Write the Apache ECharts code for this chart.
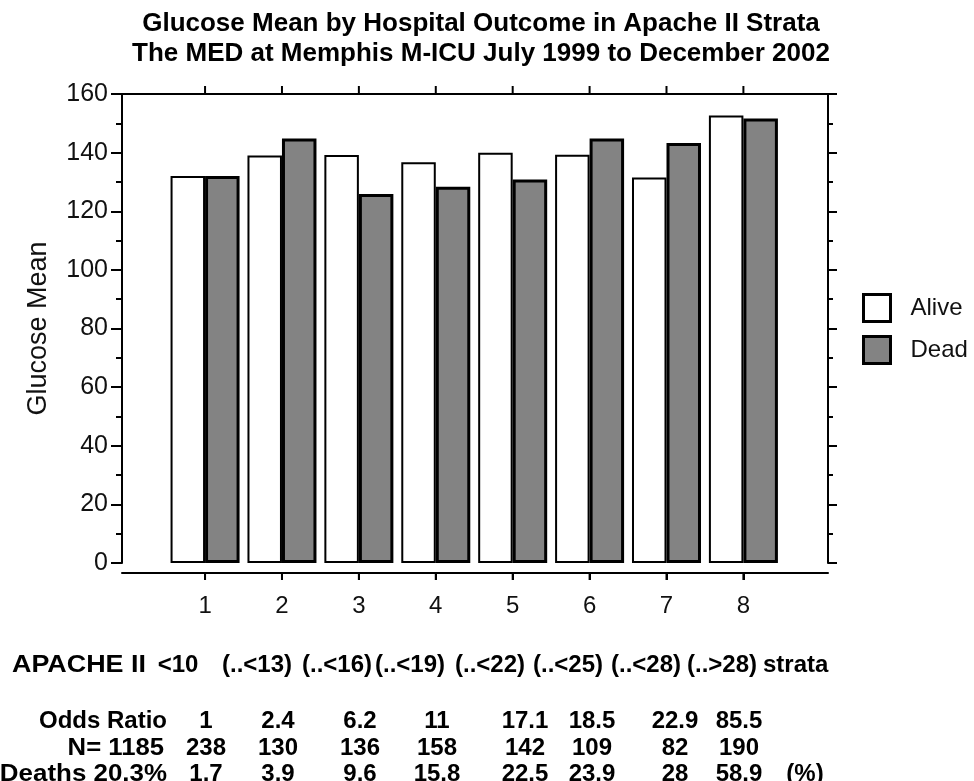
<!DOCTYPE html>
<html>
<head>
<meta charset="utf-8">
<script src="https://cdn.jsdelivr.net/npm/echarts@6/dist/echarts.min.js"></script>
<style>
html,body{margin:0;padding:0;background:#fff;}
#chart{width:974px;height:781px;}
</style>
</head>
<body>
<div id="chart"></div>
<script>
// ---- data ----
var categories = ['1', '2', '3', '4', '5', '6', '7', '8'];
var aliveMean = [132, 139, 139.2, 136.7, 140, 139.3, 131.5, 152.7];
var deadMean  = [132, 144.8, 125.9, 128.4, 130.8, 144.8, 143.3, 151.6];
var yTicks = [0, 20, 40, 60, 80, 100, 120, 140, 160];
var apacheStrata = ['<10', '(..<13)', '(..<16)', '(..<19)', '(..<22)', '(..<25)', '(..<28)', '(..>28)'];
var oddsRatio = ['1', '2.4', '6.2', '11', '17.1', '18.5', '22.9', '85.5'];
var nCounts = ['238', '130', '136', '158', '142', '109', '82', '190'];
var deathsPct = ['1.7', '3.9', '9.6', '15.8', '22.5', '23.9', '28', '58.9'];
var totalN = '1185';
var totalDeaths = '20.3%';
var titleLines = ['Glucose Mean by Hospital Outcome in Apache II Strata',
                  'The MED at Memphis M-ICU July 1999 to December 2002'];

// ---- layout (positions only) ----
var strataX = [178, 257, 337, 410, 490, 568, 646, 722];
var colX = [206, 278, 360, 437, 525, 592, 675, 739];
var rowY = {apache: 665, odds: 721, n: 748, deaths: 774};

var FONT = 'Liberation Sans, Arial, sans-serif';
var tableFont = 'bold 24px ' + 'Liberation Sans, Arial, sans-serif';

function txt(x, y, s, align, sx) {
  return {type: 'text', x: x, y: y, scaleX: sx || 1,
          style: {text: s, font: tableFont, fill: '#000', textAlign: align || 'center', textVerticalAlign: 'middle'}, silent: true};
}
var graphics = [];
graphics.push(txt(12, rowY.apache, 'APACHE II', 'left', 1.12));
apacheStrata.forEach(function (s, i) { graphics.push(txt(strataX[i], rowY.apache, s)); });
graphics.push(txt(763, rowY.apache, 'strata', 'left'));
graphics.push(txt(167, rowY.odds, 'Odds Ratio', 'right'));
graphics.push(txt(164, rowY.n, 'N= ' + totalN, 'right', 1.07));
graphics.push(txt(167, rowY.deaths, 'Deaths ' + totalDeaths, 'right', 1.08));
oddsRatio.forEach(function (s, i) { graphics.push(txt(colX[i], rowY.odds, s)); });
nCounts.forEach(function (s, i) { graphics.push(txt(colX[i], rowY.n, s)); });
deathsPct.forEach(function (s, i) { graphics.push(txt(colX[i], rowY.deaths, s)); });
graphics.push(txt(805, rowY.deaths, '(%)'));

function ls() { return {color: '#000', width: 2}; }
// frame grid and its x range (in category units); bar grid derived so category centres line up
var frame = {left: 122, top: 94, width: 706, height: 469};
var xMin = -0.08, xMax = 9.1;
var unit = frame.width / (xMax - xMin);
var barGrid = {left: frame.left + (0.5 - xMin) * unit, top: frame.top, width: 8 * unit, height: frame.height};

var option = {
  backgroundColor: '#fff',
  animation: false,
  title: {
    text: titleLines.join('\n'),
    left: 476, top: 4, textAlign: 'center',
    textStyle: {fontFamily: FONT, fontWeight: 'bold', fontSize: 26, lineHeight: 30, color: '#000'}
  },
  legend: {
    orient: 'vertical', left: 862, top: 293, padding: 0,
    itemWidth: 27, itemHeight: 27, itemGap: 12, icon: 'rect',
    textStyle: {fontFamily: FONT, fontSize: 24, lineHeight: 27, color: '#111', padding: [0, 0, 0, 15]},
    data: [
      {name: 'Alive', itemStyle: {color: '#fff', borderColor: '#000', borderWidth: 3}},
      {name: 'Dead', itemStyle: {color: '#838383', borderColor: '#000', borderWidth: 3}}
    ]
  },
  grid: [frame, barGrid],
  xAxis: [
    {gridIndex: 0, type: 'value', min: xMin, max: xMax, position: 'bottom', offset: 10,
     axisLine: {show: true, onZero: false, lineStyle: ls()},
     axisTick: {show: false}, axisLabel: {show: false}, splitLine: {show: false}},
    {gridIndex: 0, type: 'value', min: xMin, max: xMax, position: 'top',
     axisLine: {show: true, onZero: false, lineStyle: ls()},
     axisTick: {show: false}, axisLabel: {show: false}, splitLine: {show: false}},
    {gridIndex: 1, type: 'category', data: categories, show: false},
    {gridIndex: 1, type: 'category', data: categories, position: 'bottom', offset: 10,
     axisLine: {show: false}, axisTick: {show: true, alignWithLabel: true, length: 7, lineStyle: ls()},
     axisLabel: {show: true, interval: 0, fontFamily: FONT, fontSize: 24, color: '#111', margin: 21},
     splitLine: {show: false}}
  ],
  yAxis: [
    {gridIndex: 0, type: 'value', min: 0, max: 160, interval: 20, position: 'left',
     name: 'Glucose Mean', nameLocation: 'middle', nameGap: 70,
     nameTextStyle: {fontFamily: FONT, fontSize: 27, color: '#111'},
     axisLine: {show: true, onZero: false, lineStyle: ls()},
     axisTick: {show: true, length: 11, lineStyle: ls()},
     minorTick: {show: true, splitNumber: 2, length: 6, lineStyle: ls()},
     axisLabel: {fontFamily: FONT, fontSize: 25, color: '#111', margin: 14,
       formatter: function (v) { return yTicks.indexOf(v) >= 0 ? String(v) : ''; }},
     splitLine: {show: false}},
    {gridIndex: 0, type: 'value', min: 0, max: 160, interval: 20, position: 'right',
     axisLine: {show: true, onZero: false, lineStyle: ls()},
     axisTick: {show: true, length: 9, lineStyle: ls()},
     minorTick: {show: true, splitNumber: 2, length: 5, lineStyle: ls()},
     axisLabel: {show: false}, splitLine: {show: false}},
    {gridIndex: 1, type: 'value', min: 0, max: 160, show: false, splitLine: {show: false}}
  ],
  series: [
    {name: 'Alive', type: 'bar', xAxisIndex: 2, yAxisIndex: 2, data: aliveMean,
     barWidth: 34.5, barGap: '0%',
     itemStyle: {color: '#ffffff', borderColor: '#000', borderWidth: 2}},
    {name: 'Dead', type: 'bar', xAxisIndex: 2, yAxisIndex: 2, data: deadMean,
     barWidth: 34.5, barGap: '0%',
     itemStyle: {color: '#838383', borderColor: '#000', borderWidth: 3}}
  ],
  graphic: {elements: graphics}
};
var chart = echarts.init(document.getElementById('chart'), null, {renderer: 'canvas'});
chart.setOption(option);

// category tick marks (top border and detached baseline) placed through the bar axis scale
try {
  var tickEls = graphics.slice();
  var baseY = frame.top + frame.height + 10;
  categories.forEach(function (c) {
    var x = chart.convertToPixel({xAxisIndex: 2}, c);
    if (typeof x !== 'number' || isNaN(x)) return;
    tickEls.push({type: 'line', silent: true, shape: {x1: x, y1: baseY, x2: x, y2: baseY + 7},
                  style: {stroke: '#000', lineWidth: 2}});
    tickEls.push({type: 'line', silent: true, shape: {x1: x, y1: frame.top - 8, x2: x, y2: frame.top},
                  style: {stroke: '#000', lineWidth: 2}});
  });
  chart.setOption({graphic: {elements: tickEls}});
} catch (e) {}
</script>
</body>
</html>
